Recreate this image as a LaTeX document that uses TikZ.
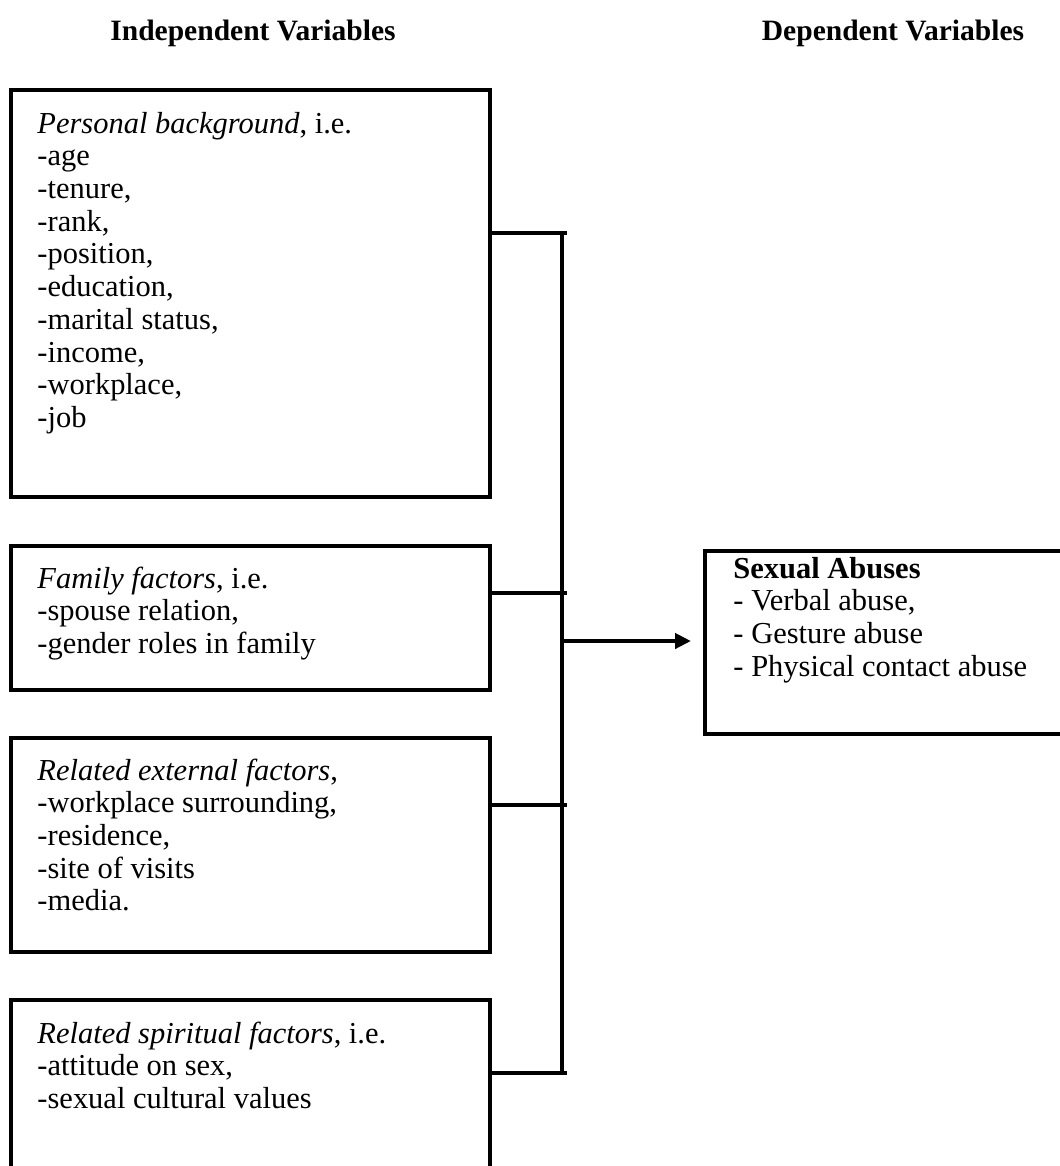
\documentclass[tikz,border=0pt]{standalone}
\usepackage{fontspec}
\setmainfont{Liberation Serif}
\usetikzlibrary{arrows.meta,fit}
\newcommand\mylines[1]{\begin{tabular}[t]{@{}l@{}}#1\end{tabular}}
\begin{document}
\begin{tikzpicture}[x=0.42pt,y=-0.42pt,
  box/.style={draw, line width=1.7pt, inner sep=0pt},
  txt/.style={anchor=base west, inner sep=0pt, font=\fontsize{12.8}{13.75}\selectfont},
  hd/.style={anchor=base, inner sep=0pt, font=\fontsize{12.4}{13.6}\selectfont\bfseries},
  conn/.style={line width=1.7pt}]
\path[use as bounding box, clip] (0,0) rectangle (1060,1166);
\fill[white] (0,0) rectangle (1060,1166);

\node[hd] (h1) at (253,40) {Independent Variables};
\node[hd] (h2) at (893,40) {Dependent Variables};

\node[box, fit={(11,90) (490,497)}] (b1) {};
\node[box, fit={(11,546) (490,690)}] (b2) {};
\node[box, fit={(11,738) (490,952)}] (b3) {};
\node[box, fit={(11,1000) (490,1200)}] (b4) {};
\node[box, fit={(705,551) (1090,734)}] (rb) {};

\node[txt] (t1) at (37,133) {\mylines{\textit{Personal background}, i.e.\\ -age\\ -tenure,\\ -rank,\\ -position,\\ -education,\\ -marital status,\\ -income,\\ -workplace,\\ -job}};
\node[txt] (t2) at (37,588) {\mylines{\textit{Family factors}, i.e.\\ -spouse relation,\\ -gender roles in family}};
\node[txt] (t3) at (37,780) {\mylines{\textit{Related external factors},\\ -workplace surrounding,\\ -residence,\\ -site of visits\\ -media.}};
\node[txt] (t4) at (37,1043) {\mylines{\textit{Related spiritual factors}, i.e.\\ -attitude on sex,\\ -sexual cultural values}};
\node[txt] (tr) at (733,578) {\mylines{\textbf{Sexual Abuses}\\ - Verbal abuse,\\ - Gesture abuse\\ - Physical contact abuse}};

\coordinate (j1) at (567,233);
\coordinate (j2) at (567,593);
\coordinate (j3) at (567,805);
\coordinate (j4) at (567,1073);
\coordinate (st) at (562,233);
\coordinate (sb) at (562,1073);
\coordinate (am) at (562,641);
\coordinate (at) at (691,641);

\draw[conn] (b1.east |- j1) -- (j1);
\draw[conn] (b2.east |- j2) -- (j2);
\draw[conn] (b3.east |- j3) -- (j3);
\draw[conn] (b4.east |- j4) -- (j4);
\draw[conn] (st) -- (sb);
\draw[conn, -{Triangle[length=6.7pt,width=6.3pt]}] (am) -- (at);
\end{tikzpicture}
\end{document}
